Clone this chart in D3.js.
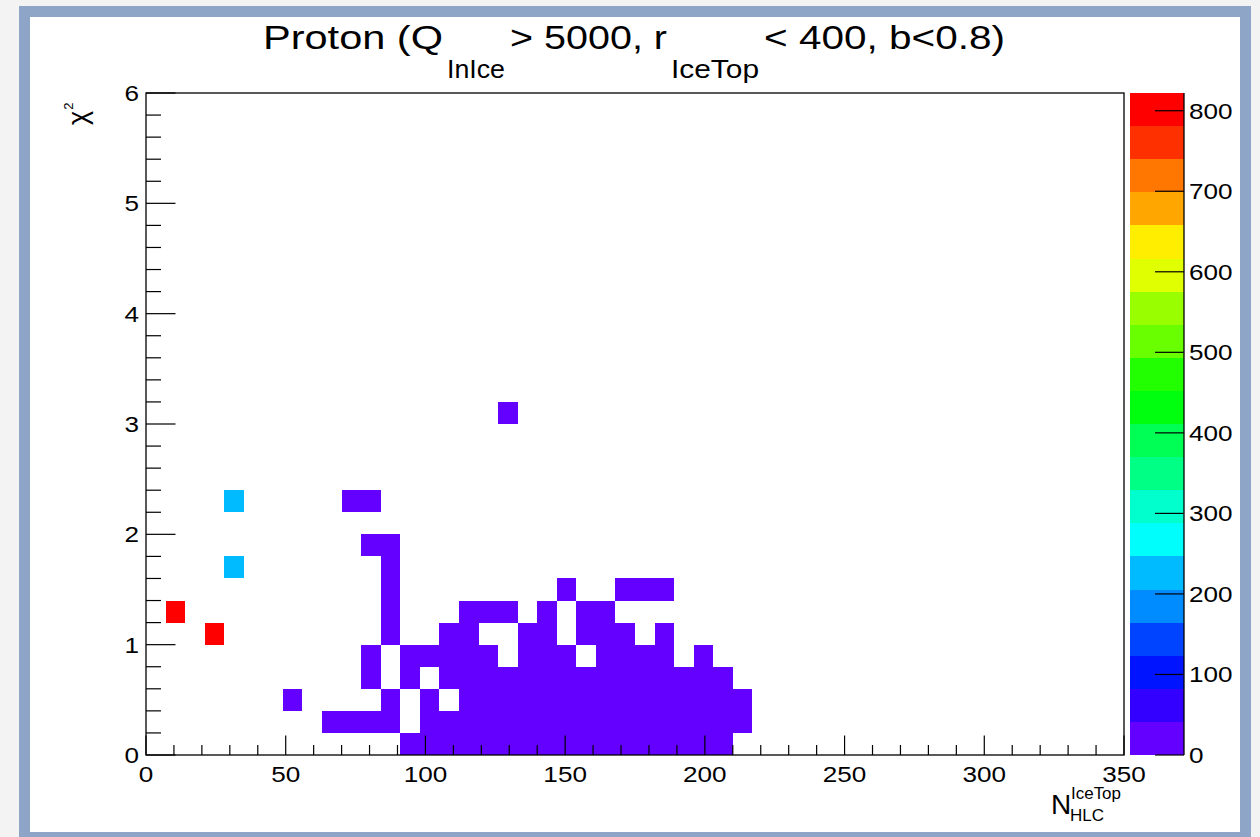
<!DOCTYPE html>
<html><head><meta charset="utf-8">
<script src="https://cdn.jsdelivr.net/npm/d3@7"></script>
<style>
body{margin:0;background:#f3f3f3;}
svg{display:block;font-family:"Liberation Sans",Arial,Helvetica,sans-serif;}
</style>
</head><body>
<svg id="c" width="1260" height="837"></svg>
<script>
// ---------------- data ----------------
const xDomain = [0, 350];
const yDomain = [0, 6];
const binWidthX = 7;
const binWidthY = 0.2;

// lower-left corner of each filled bin and its count
const cellX = [
  // y = 0.0
  91,98,105,112,119,126,133,140,147,154,161,168,175,182,189,196,203,
  // y = 0.2
  63,70,77,84, 98,105,112,119,126,133,140,147,154,161,168,175,182,189,196,203,210,
  // y = 0.4
  49,84,98, 112,119,126,133,140,147,154,161,168,175,182,189,196,203,210,
  // y = 0.6
  77,91, 105,112,119,126,133,140,147,154,161,168,175,182,189,196,203,
  // y = 0.8
  77,91,98,105,112,119,133,140,147,161,168,175,182,196,
  // y = 1.0
  21,84,105,112,133,140,154,161,168,182,
  // y = 1.2
  7,84,112,119,126,140,154,161,
  // y = 1.4
  84,147,168,175,182,
  // y = 1.6
  28,84,
  // y = 1.8
  77,84,
  // y = 2.2
  28,70,77,
  // y = 3.0
  126
];
const cellY = [
  0,0,0,0,0,0,0,0,0,0,0,0,0,0,0,0,0,
  0.2,0.2,0.2,0.2,0.2,0.2,0.2,0.2,0.2,0.2,0.2,0.2,0.2,0.2,0.2,0.2,0.2,0.2,0.2,0.2,0.2,
  0.4,0.4,0.4,0.4,0.4,0.4,0.4,0.4,0.4,0.4,0.4,0.4,0.4,0.4,0.4,0.4,0.4,0.4,
  0.6,0.6,0.6,0.6,0.6,0.6,0.6,0.6,0.6,0.6,0.6,0.6,0.6,0.6,0.6,0.6,0.6,
  0.8,0.8,0.8,0.8,0.8,0.8,0.8,0.8,0.8,0.8,0.8,0.8,0.8,0.8,
  1.0,1.0,1.0,1.0,1.0,1.0,1.0,1.0,1.0,1.0,
  1.2,1.2,1.2,1.2,1.2,1.2,1.2,1.2,
  1.4,1.4,1.4,1.4,1.4,
  1.6,1.6,
  1.8,1.8,
  2.2,2.2,2.2,
  3.0
];
const cellCount = [
  3,6,9,12,15,18,20,22,24,25,23,21,18,15,11,7,3,
  1,1,1,2, 8,11,14,18,21,24,27,29,30,28,26,23,19,15,10,6,2,
  1,2,3, 7,10,13,16,19,21,23,24,23,21,18,14,10,6,2,
  1,2, 4,6,8,10,12,14,15,16,15,13,11,9,6,4,1,
  1,1,2,3,4,4,5,6,5,5,4,3,2,1,
  795,1,2,2,3,3,3,2,2,1,
  822,1,1,2,2,2,1,1,
  1,1,1,1,1,
  215,1,
  1,1,
  230,1,1,
  1
];

const xTicks = [0, 50, 100, 150, 200, 250, 300, 350];
const xTickLabels = ["0", "50", "100", "150", "200", "250", "300", "350"];
const yTicks = [0, 1, 2, 3, 4, 5, 6];
const yTickLabels = ["0", "1", "2", "3", "4", "5", "6"];
const zTicks = [0, 100, 200, 300, 400, 500, 600, 700, 800];
const zTickLabels = ["0", "100", "200", "300", "400", "500", "600", "700", "800"];

const paletteColors = ["#6300ff","#3300ff","#0014ff","#0044ff","#008bff","#00bbff","#00fffc","#00ffcc","#00ff85","#00ff55",
                       "#00ff0e","#22ff00","#69ff00","#99ff00","#e0ff00","#ffee00","#ffa700","#ff7700","#ff3000","#ff0000"];

// ---------------- layout ----------------
const svg = d3.select("#c");
const F = {left:146, right:1124, top:93, bottom:755};
const PAL = {left:1130, right:1184};

const xs = d3.scaleLinear().domain(xDomain).range([F.left, F.right]);
const ys = d3.scaleLinear().domain(yDomain).range([F.bottom, F.top]);
const zMax = d3.max(cellCount);
const zs = d3.scaleLinear().domain([0, zMax]).range([F.bottom, F.top]);
const color = d3.scaleQuantize().domain([0, zMax]).range(paletteColors);

// background / window border
svg.append("rect").attr("x",0).attr("y",0).attr("width",1260).attr("height",837).attr("fill","#f3f3f3");
svg.append("rect").attr("x",19).attr("y",6).attr("width",1232).attr("height",840).attr("fill","#8fa5c7");
svg.append("rect").attr("x",30).attr("y",17).attr("width",1210).attr("height",815).attr("fill","#ffffff");

// cells
svg.append("g").selectAll("rect").data(cellCount).join("rect")
  .attr("x", (d,i)=>xs(cellX[i]))
  .attr("y", (d,i)=>ys(cellY[i]+binWidthY))
  .attr("width", (d,i)=>xs(cellX[i]+binWidthX)-xs(cellX[i]))
  .attr("height", (d,i)=>ys(cellY[i])-ys(cellY[i]+binWidthY))
  .attr("fill", d=>color(d))
  .attr("shape-rendering","crispEdges");

// frame
svg.append("rect").attr("x",F.left).attr("y",F.top).attr("width",F.right-F.left).attr("height",F.bottom-F.top)
  .attr("fill","none").attr("stroke","#000").attr("stroke-width",1.3);

const axG = svg.append("g").attr("stroke","#000").attr("stroke-width",1.2);
// x ticks
const xMinor = xs.ticks(35);
axG.selectAll(".xm").data(xMinor).join("line")
  .attr("x1",d=>xs(d)).attr("x2",d=>xs(d))
  .attr("y1",F.bottom).attr("y2",d=> (d%50===0) ? F.bottom-19.5 : F.bottom-10);
// y ticks
const yMinor = ys.ticks(30);
axG.selectAll(".ym").data(yMinor).join("line")
  .attr("y1",d=>ys(d)).attr("y2",d=>ys(d))
  .attr("x1",F.left).attr("x2",d=> (Math.abs(d-Math.round(d))<1e-6) ? F.left+29.5 : F.left+15);

function label(x, y, txt, size, anchor, sx){
  svg.append("text").attr("transform",`translate(${x},${y}) scale(${sx},1)`)
    .attr("text-anchor",anchor).attr("font-size",size).attr("fill","#000").text(txt);
}
xTicks.forEach((t,i)=>label(xs(t), 782, xTickLabels[i], 22.5, "middle", 1.16));
yTicks.forEach((t,i)=>label(139, ys(t)+8, yTickLabels[i], 22.5, "end", 1.16));

// palette
const levels = d3.range(paletteColors.length);
const step = zMax/paletteColors.length;
svg.append("g").selectAll("rect").data(levels).join("rect")
  .attr("x",PAL.left).attr("width",PAL.right-PAL.left)
  .attr("y",d=>zs((d+1)*step)).attr("height",d=>zs(d*step)-zs((d+1)*step))
  .attr("fill",d=>paletteColors[d]).attr("shape-rendering","crispEdges");
svg.append("line").attr("x1",PAL.right).attr("x2",PAL.right).attr("y1",F.top).attr("y2",F.bottom)
  .attr("stroke","#000").attr("stroke-width",1.3);
svg.append("g").attr("stroke","#000").attr("stroke-width",1.2).selectAll("line").data(zTicks).join("line")
  .attr("x1",PAL.right-29).attr("x2",PAL.right).attr("y1",d=>zs(d)).attr("y2",d=>zs(d));
zTicks.forEach((t,i)=>label(1189, zs(t)+8, zTickLabels[i], 22.5, "start", 1.16));

// title pieces (ROOT TLatex style subscripts)
function piece(x, y, txt, size, len){
  svg.append("text").attr("x",x).attr("y",y).attr("font-size",size).attr("fill","#000")
    .attr("textLength",len).attr("lengthAdjust","spacingAndGlyphs").text(txt);
}
piece(263, 49, "Proton (Q", 34, 180);
piece(447, 78, "InIce", 26, 58);
piece(510, 49, "> 5000, r", 34, 157);
piece(671, 78, "IceTop", 26, 88);
piece(764, 49, "< 400, b<0.8)", 34, 241);

// y axis title chi^2
const yt = svg.append("text").attr("transform","translate(87,125) rotate(-90)").attr("font-size",27).attr("fill","#000");
yt.append("tspan").text("χ");
yt.append("tspan").attr("font-size",13).attr("dy",-14).attr("dx",1).text("2");

// x axis title
svg.append("text").attr("x",1051).attr("y",814).attr("font-size",28).attr("fill","#000").text("N");
svg.append("text").attr("x",1071).attr("y",799).attr("font-size",17).attr("fill","#000")
  .attr("textLength",50).attr("lengthAdjust","spacingAndGlyphs").text("IceTop");
svg.append("text").attr("x",1070).attr("y",821).attr("font-size",17).attr("fill","#000")
  .attr("textLength",34).attr("lengthAdjust","spacingAndGlyphs").text("HLC");
</script>
</body></html>
